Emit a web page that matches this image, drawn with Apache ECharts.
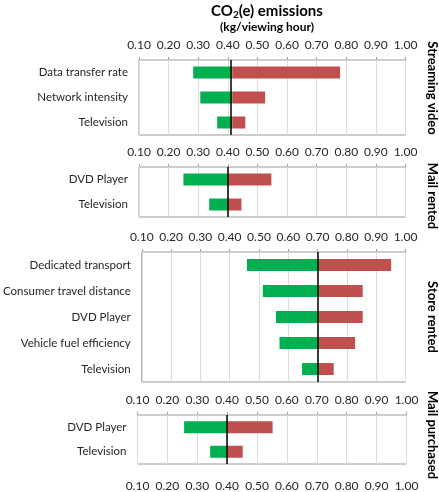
<!DOCTYPE html>
<html>
<head>
<meta charset="utf-8">
<script src="https://cdn.jsdelivr.net/npm/echarts@6/dist/echarts.min.js"></script>
<style>html,body{margin:0;padding:0;background:#fff;}#c{width:439px;height:492px;}</style>
</head>
<body>
<div id="c"></div>
<script>
// ---- data ----
const axisMin = 0.1;
const axisMax = 1.0;
const axisStep = 0.1;

const panelNames = ['Streaming video', 'Mail rented', 'Store rented', 'Mail purchased'];

const streamingCats = ['Data transfer rate', 'Network intensity', 'Television'];
const streamingBase = 0.415;
const streamingLow = [0.283, 0.307, 0.364];
const streamingHigh = [0.779, 0.526, 0.459];

const mailRentedCats = ['DVD Player', 'Television'];
const mailRentedBase = 0.40;
const mailRentedLow = [0.25, 0.337];
const mailRentedHigh = [0.547, 0.446];

const storeRentedCats = ['Dedicated transport', 'Consumer travel distance', 'DVD Player', 'Vehicle fuel efficiency', 'Television'];
const storeRentedBase = 0.705;
const storeRentedLow = [0.459, 0.513, 0.558, 0.570, 0.647];
const storeRentedHigh = [0.951, 0.854, 0.854, 0.828, 0.755];

const mailPurchasedCats = ['DVD Player', 'Television'];
const mailPurchasedBase = 0.40;
const mailPurchasedLow = [0.256, 0.343];
const mailPurchasedHigh = [0.552, 0.452];

// ---- layout / style ----
const FONT = 'Lato';
const GREEN = '#00B050';
const RED = '#C0504D';
const panels = [
  {cats: streamingCats, base: streamingBase, low: streamingLow, high: streamingHigh, left: 139, width: 266.5, top: 60, height: 75, labelY: 88},
  {cats: mailRentedCats, base: mailRentedBase, low: mailRentedLow, high: mailRentedHigh, left: 139, width: 266.5, top: 167, height: 50, labelY: 196},
  {cats: storeRentedCats, base: storeRentedBase, low: storeRentedLow, high: storeRentedHigh, left: 139, width: 266.5, top: 252, height: 130, labelY: 317},
  {cats: mailPurchasedCats, base: mailPurchasedBase, low: mailPurchasedLow, high: mailPurchasedHigh, left: 137.5, width: 269, top: 415, height: 49, labelY: 435}
];

const grid = [], xAxis = [], yAxis = [], series = [], graphic = [];
const fmt = v => (Math.round(v * 100) / 100).toFixed(2);

panels.forEach((p, i) => {
  grid.push({left: p.left, width: p.width, top: p.top, height: p.height, show: true, borderColor: '#9a9a9a', borderWidth: 1, backgroundColor: 'transparent'});
  xAxis.push({
    type: 'value', gridIndex: i, position: 'top', min: axisMin, max: axisMax, interval: axisStep,
    axisLine: {show: false},
    axisTick: {show: true, length: 3, lineStyle: {color: '#a6a6a6'}},
    axisLabel: {formatter: fmt, fontFamily: FONT, fontSize: 12, color: '#262626', margin: 9},
    splitLine: {show: true, lineStyle: {color: '#dcdcdc', width: 1}}
  });
  yAxis.push({
    type: 'category', gridIndex: i, data: p.cats, inverse: true,
    axisLine: {show: false}, axisTick: {show: false},
    axisLabel: {fontFamily: FONT, fontSize: 11.5, color: '#262626', margin: 11},
    splitLine: {show: false}
  });
  series.push({
    type: 'bar', xAxisIndex: i, yAxisIndex: i, stack: 's' + i, silent: true,
    itemStyle: {color: 'transparent'}, barWidth: 12,
    data: p.low
  });
  series.push({
    type: 'bar', xAxisIndex: i, yAxisIndex: i, stack: 's' + i, silent: true,
    itemStyle: {color: GREEN}, barWidth: 12,
    data: p.low.map(v => p.base - v)
  });
  series.push({
    type: 'bar', xAxisIndex: i, yAxisIndex: i, stack: 's' + i, silent: true,
    itemStyle: {color: RED}, barWidth: 12,
    data: p.high.map(v => v - p.base),
    markLine: {
      silent: true, symbol: 'none', label: {show: false},
      lineStyle: {color: '#000', width: 1.5, type: 'solid'},
      data: [{xAxis: p.base}]
    }
  });
  graphic.push({
    type: 'text', x: 432, y: p.labelY, rotation: -Math.PI / 2,
    style: {text: panelNames[i], font: 'bold 13px ' + FONT, fill: '#000', align: 'center', verticalAlign: 'middle'}
  });
});

// extra bottom axis for the last panel
xAxis.push({
  type: 'value', gridIndex: 3, position: 'bottom', min: axisMin, max: axisMax, interval: axisStep,
  axisLine: {show: false}, axisTick: {show: false},
  axisLabel: {formatter: fmt, fontFamily: FONT, fontSize: 12, color: '#262626', margin: 16},
  splitLine: {show: false}
});

const option = {
  animation: false,
  backgroundColor: '#fff',
  title: [
    {
      text: '{a|CO}{s|2}{a|(e) emissions}',
      left: 267, top: 2, textAlign: 'center', padding: 0,
      textStyle: {
        rich: {
          a: {fontFamily: FONT, fontWeight: 'bold', fontSize: 15, color: '#000', lineHeight: 18},
          s: {fontFamily: FONT, fontWeight: 'bold', fontSize: 10, color: '#000', lineHeight: 18, padding: [8, 0, 0, 0]}
        }
      }
    },
    {
      text: '(kg/viewing hour)', left: 267, top: 21, textAlign: 'center', padding: 0,
      textStyle: {fontFamily: FONT, fontWeight: 'bold', fontSize: 12, color: '#000'}
    }
  ],
  grid, xAxis, yAxis, series, graphic
};

const chart = echarts.init(document.getElementById('c'), null, {renderer: 'canvas'});
chart.setOption(option);
</script>
</body>
</html>
